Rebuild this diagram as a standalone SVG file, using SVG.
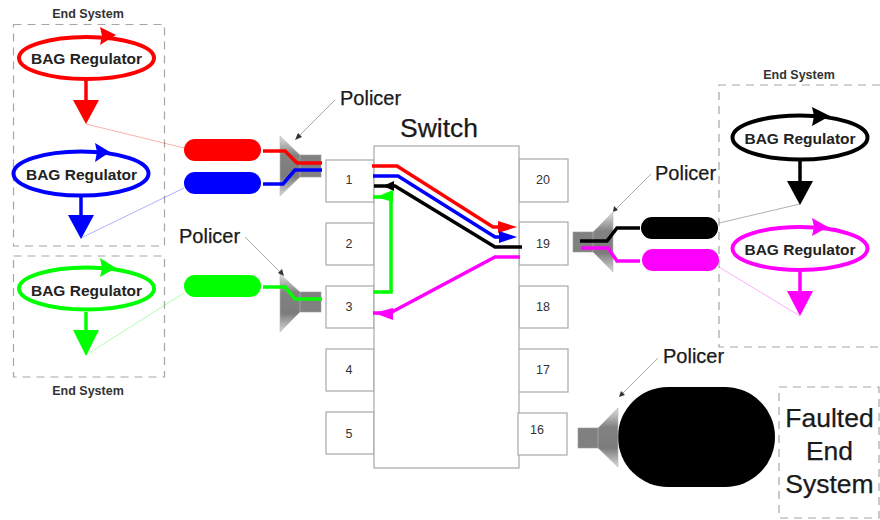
<svg xmlns="http://www.w3.org/2000/svg" width="880" height="520" viewBox="0 0 880 520">
<style>
text{font-family:"Liberation Sans",Arial,sans-serif;fill:#1a1a1a}
.es{font-size:12.5px;font-weight:700;text-anchor:middle;fill:#333}
.bag{font-size:15.5px;font-weight:700;text-anchor:middle;fill:#222}
.pol{font-size:20px;stroke:#1a1a1a;stroke-width:.25}
.big{font-size:26.5px;text-anchor:middle;stroke:#1a1a1a;stroke-width:.25}
.num{font-size:12.5px;text-anchor:middle;fill:#333}
.dash{fill:none;stroke:#a6a6a6;stroke-width:1.2;stroke-dasharray:8 6}
.port{fill:#fff;stroke:#a8a8a8;stroke-width:1.2}
.reg{fill:#fff;stroke-width:4}
.wire{fill:none;stroke-width:3.5}
.thin{fill:none;stroke-width:.7;stroke-opacity:.45}
.call{fill:none;stroke:#aaa;stroke-width:1}
.neck{fill:#808080;stroke:#999;stroke-width:.6}
.horn{fill:url(#horn);stroke:#bbb;stroke-width:.6}
</style>
<defs>
<linearGradient id="horn" x1="0" y1="0" x2="0" y2="1">
<stop offset="0" stop-color="#e0e0e0"/><stop offset=".32" stop-color="#828282"/><stop offset=".68" stop-color="#7c7c7c"/><stop offset="1" stop-color="#d8d8d8"/>
</linearGradient>
</defs>

<g id="end-system-1"><rect class="dash" x="13.5" y="24.5" width="151" height="221.5"/><text class="es" x="88" y="18">End System</text></g>
<g id="end-system-2"><rect class="dash" x="13.5" y="256" width="151" height="121"/><text class="es" x="88" y="395">End System</text></g>
<g id="end-system-3"><path class="dash" d="M880 85H719V347H880"/><text class="es" x="799" y="79">End System</text></g>
<g id="faulted-box"><rect class="dash" x="779" y="387" width="100" height="131"/><text class="big" x="829.500" y="427">Faulted</text><text class="big" x="829.500" y="460">End</text><text class="big" x="829.500" y="493">System</text></g>

<g id="switch">
<rect class="port" x="326" y="160" width="48" height="42"/><rect class="port" x="326" y="223" width="48" height="42"/><rect class="port" x="326" y="286" width="48" height="42"/><rect class="port" x="326" y="349" width="48" height="42"/><rect class="port" x="326" y="412" width="48" height="42"/>
<rect class="port" x="519" y="159" width="49" height="43"/><rect class="port" x="519" y="222" width="49" height="43"/><rect class="port" x="519" y="286" width="49" height="42"/><rect class="port" x="518" y="349" width="50" height="43"/>
<rect class="port" x="374" y="146" width="145" height="322"/>
<rect class="port" x="518" y="413" width="49" height="42"/>
<text class="big" x="439" y="137">Switch</text>
<text class="num" x="349" y="184">1</text><text class="num" x="349" y="248">2</text><text class="num" x="349" y="311">3</text><text class="num" x="349" y="374">4</text><text class="num" x="349" y="438">5</text>
<text class="num" x="543" y="184">20</text><text class="num" x="543" y="248">19</text><text class="num" x="543" y="311">18</text><text class="num" x="543" y="374">17</text><text class="num" x="537" y="434">16</text>
</g>

<g id="bag-red"><ellipse class="reg" cx="86.500" cy="58" rx="67.500" ry="21" stroke="#f00"/><path d="M100 27L116 35L100 45L102 36Z" fill="#f00"/><path d="M86 80V100" stroke="#f00" stroke-width="3.5"/><path d="M73 100H99L86 124Z" fill="#f00"/><text class="bag" x="86.500" y="64">BAG Regulator</text></g>
<g id="bag-blue"><ellipse class="reg" cx="81" cy="173.500" rx="67.500" ry="22" stroke="#00f"/><path d="M95 143L110 152L95 162L97 152Z" fill="#00f"/><path d="M81 197V216" stroke="#00f" stroke-width="3.500"/><path d="M68 215H94L81 239Z" fill="#00f"/><text class="bag" x="81.500" y="180">BAG Regulator</text></g>
<g id="bag-green"><ellipse class="reg" cx="86.500" cy="288.500" rx="67.500" ry="21" stroke="#0f0"/><path d="M100 258L116 268L100 277L102 268Z" fill="#0f0"/><path d="M86 312V331" stroke="#0f0" stroke-width="3.5"/><path d="M73 330H99L86 356Z" fill="#0f0"/><text class="bag" x="86.500" y="296">BAG Regulator</text></g>
<g id="bag-black"><ellipse class="reg" cx="800" cy="137.500" rx="67.500" ry="22" stroke="#000"/><path d="M812 107L830 116L812 126L814 116Z" fill="#000"/><path d="M800 160V182" stroke="#000" stroke-width="3.500"/><path d="M787 181H813L800 205Z" fill="#000"/><text class="bag" x="800" y="144">BAG Regulator</text></g>
<g id="bag-magenta"><ellipse class="reg" cx="800" cy="248.500" rx="67.500" ry="21.500" stroke="#f0f"/><path d="M812 218L828 227L812 236L814 227Z" fill="#f0f"/><path d="M800 272V292" stroke="#f0f" stroke-width="3.500"/><path d="M787 291H813L800 316Z" fill="#f0f"/><text class="bag" x="800" y="255">BAG Regulator</text></g>

<g id="pill-red"><rect x="184" y="139" width="77" height="22" rx="11" fill="#f00"/></g>
<g id="pill-blue"><rect x="184" y="172" width="77" height="22" rx="11" fill="#00f"/></g>
<g id="pill-green"><rect x="184" y="275" width="77" height="22" rx="11" fill="#0f0"/></g>
<g id="pill-black"><rect x="641" y="217" width="77" height="22" rx="11" fill="#000"/></g>
<g id="pill-magenta"><rect x="642" y="249" width="77" height="22" rx="11" fill="#f0f"/></g>
<g id="faulted-pill"><rect x="618" y="387" width="157" height="100" rx="50" fill="#000"/></g>

<g id="policer-1"><rect class="neck" x="299" y="155" width="22" height="22"/><path class="horn" d="M280 136L300 155V177L280 196Z"/></g>
<g id="policer-2"><rect class="neck" x="299" y="292" width="22" height="20"/><path class="horn" d="M280 274L300 292V312L280 332Z"/></g>
<g id="policer-3"><rect class="neck" x="573" y="232" width="21" height="20"/><path class="horn" d="M613 212L593 232V252L613 272Z"/></g>
<g id="policer-4"><rect class="neck" x="578" y="428" width="21" height="20"/><path class="horn" d="M618 408L598 428V448L618 467Z"/></g>

<g id="labels">
<text class="pol" x="340" y="105">Policer</text>
<text class="pol" x="179" y="243">Policer</text>
<text class="pol" x="655" y="180">Policer</text>
<text class="pol" x="663" y="363">Policer</text>
</g>

<g id="connectors">
<path class="thin" stroke="#f00" d="M86 124L184 148"/>
<path class="thin" stroke="#00f" d="M81 238L184 188"/>
<path class="thin" stroke="#0f0" d="M86 355L184 293"/>
<path class="thin" stroke="#000" d="M800 204L719 223"/>
<path class="thin" stroke="#f0f" d="M800 316L719 267"/>
<path class="wire" stroke="#f00" d="M263 151H285L297 163H322"/>
<path class="wire" stroke="#00f" d="M263 184H283L295 170H322"/>
<path class="wire" stroke="#0f0" d="M263 287H285L295 299H322"/>
<path class="wire" stroke="#000" d="M640 228H617L607 241H580"/>
<path class="wire" stroke="#f0f" d="M640 261H617L608 248H581"/>
<path class="wire" stroke="#f00" d="M372 166H397L493 227H500"/><path fill="#f00" d="M498 221L517 227L498 233Z"/>
<path class="wire" stroke="#00f" d="M373 176H398L495 237H500"/><path fill="#00f" d="M499 231L517 237L499 243Z"/>
<path class="wire" stroke="#000" d="M374 186H395L495 247H522"/><path fill="#000" d="M383 186L394 181V191Z"/>
<path class="wire" stroke="#0f0" d="M373 292H391V197H373"/><path fill="#0f0" d="M376 197L393 190V202Z"/>
<path class="wire" stroke="#f0f" d="M520 257H495L390 313H373"/><path fill="#f0f" d="M374 313L393 308V320Z"/>
<path class="call" d="M335 100L298 137"/><path fill="#333" d="M295 140L298 133L302 137Z"/>
<path class="call" d="M245 237L281 273"/><path fill="#333" d="M284 276L278 273L282 269Z"/>
<path class="call" d="M651 174L616 209"/><path fill="#333" d="M613 212L614 206L618 210Z"/>
<path class="call" d="M658 358L622 394"/><path fill="#333" d="M619 397L621 391L625 395Z"/>
</g>
</svg>
